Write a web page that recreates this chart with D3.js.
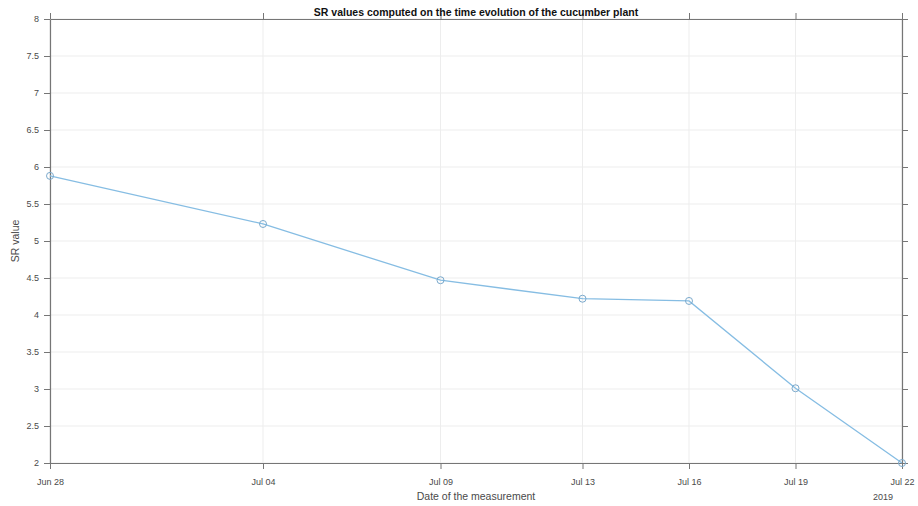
<!DOCTYPE html>
<html>
<head>
<meta charset="utf-8">
<script src="https://cdn.jsdelivr.net/npm/d3@7"></script>
<style>
  html, body { margin: 0; padding: 0; background: #fff; }
  svg text { font-family: "Liberation Sans", Arial, Helvetica, sans-serif; }
</style>
</head>
<body>
<svg id="chart" width="918" height="506"></svg>
<script>
// Measurement dates and SR values for the cucumber plant
const dates = ["2019-06-28", "2019-07-04", "2019-07-09", "2019-07-13", "2019-07-16", "2019-07-19", "2019-07-22"];
const srValues = [5.88, 5.23, 4.47, 4.22, 4.19, 3.01, 2.0];
const yTicks = [2, 2.5, 3, 3.5, 4, 4.5, 5, 5.5, 6, 6.5, 7, 7.5, 8];
const titleText = "SR values computed on the time evolution of the cucumber plant";
const xLabelText = "Date of the measurement";
const yLabelText = "SR value";
const yearText = "2019";

const parse = d3.timeParse("%Y-%m-%d");
const points = dates.map((d, i) => ({ date: parse(d), value: srValues[i] }));

const svg = d3.select("#chart");
const margin = { left: 50, right: 16, top: 19, bottom: 43 };
const W = 918, H = 506;
const x0 = margin.left, x1 = W - margin.right;
const y0 = H - margin.bottom, y1 = margin.top;

const x = d3.scaleTime().domain(d3.extent(points, d => d.date)).range([x0, x1]);
const y = d3.scaleLinear().domain([2, 8]).range([y0, y1]);

const axisColor = "#767676";
const textColor = "#4a4a4a";
const gridColor = "#ededed";

// grid
const grid = svg.append("g");
grid.selectAll("line.gy").data(yTicks).join("line")
  .attr("x1", x0).attr("x2", x1)
  .attr("y1", d => y(d)).attr("y2", d => y(d))
  .attr("stroke", gridColor).attr("stroke-width", 1);
grid.selectAll("line.gx").data(points).join("line")
  .attr("x1", d => x(d.date)).attr("x2", d => x(d.date))
  .attr("y1", y0).attr("y2", y1)
  .attr("stroke", gridColor).attr("stroke-width", 1);

const fmt = d3.timeFormat("%b %d");
const tickVals = points.map(d => d.date);

// bottom axis
const gx = svg.append("g").attr("transform", `translate(0,${y0})`)
  .call(d3.axisBottom(x).tickValues(tickVals).tickFormat(fmt).tickSizeInner(6).tickSizeOuter(0).tickPadding(10));
// top axis (ticks only)
const gxt = svg.append("g").attr("transform", `translate(0,${y1})`)
  .call(d3.axisTop(x).tickValues(tickVals).tickFormat("").tickSizeInner(6).tickSizeOuter(0));
// left axis
const gy = svg.append("g").attr("transform", `translate(${x0},0)`)
  .call(d3.axisLeft(y).tickValues(yTicks).tickFormat(d3.format("~g")).tickSizeInner(6).tickSizeOuter(0).tickPadding(5));
// right axis (ticks only)
const gyr = svg.append("g").attr("transform", `translate(${x1},0)`)
  .call(d3.axisRight(y).tickValues(yTicks).tickFormat("").tickSizeInner(6).tickSizeOuter(0));

[gx, gxt, gy, gyr].forEach(g => {
  g.select(".domain").attr("stroke", axisColor).attr("stroke-width", 1.2);
  g.selectAll(".tick line").attr("stroke", axisColor).attr("stroke-width", 1);
  g.selectAll(".tick text").attr("fill", textColor).style("font-size", "9px");
});

// series line
const line = d3.line().x(d => x(d.date)).y(d => y(d.value));
svg.append("path").datum(points)
  .attr("d", line)
  .attr("fill", "none")
  .attr("stroke", "#86bde3")
  .attr("stroke-width", 1.3);

svg.append("g").selectAll("circle").data(points).join("circle")
  .attr("cx", d => x(d.date)).attr("cy", d => y(d.value))
  .attr("r", 3.5)
  .attr("fill", "none")
  .attr("stroke", "#7aa9cc")
  .attr("stroke-width", 1);

// title
svg.append("text")
  .attr("x", (x0 + x1) / 2).attr("y", 16)
  .attr("text-anchor", "middle")
  .style("font-size", "10.5px").style("font-weight", "bold")
  .attr("fill", "#111")
  .text(titleText);

// x label
svg.append("text")
  .attr("x", (x0 + x1) / 2).attr("y", 500)
  .attr("text-anchor", "middle")
  .style("font-size", "10.5px")
  .attr("fill", textColor)
  .text(xLabelText);

// y label
svg.append("text")
  .attr("transform", `translate(19,${(y0 + y1) / 2}) rotate(-90)`)
  .attr("text-anchor", "middle")
  .style("font-size", "10.5px")
  .attr("fill", textColor)
  .text(yLabelText);

// year marker under last tick
svg.append("text")
  .attr("x", x1 - 19).attr("y", 500)
  .attr("text-anchor", "middle")
  .style("font-size", "9px")
  .attr("fill", textColor)
  .text(yearText);
</script>
</body>
</html>
